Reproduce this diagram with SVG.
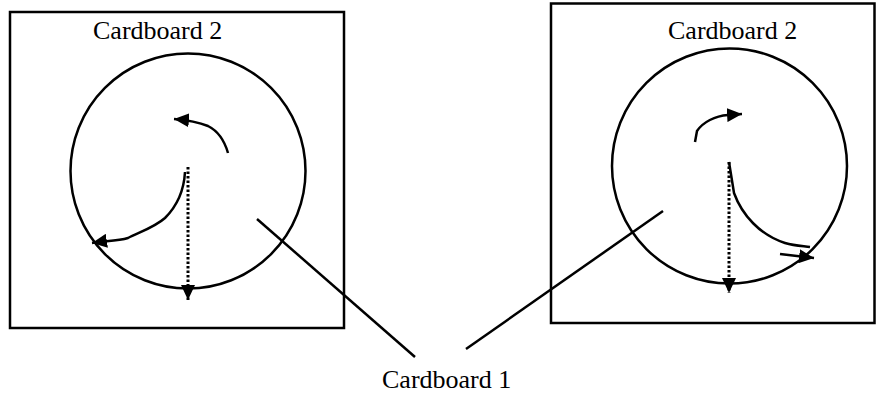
<svg xmlns="http://www.w3.org/2000/svg" width="876" height="396" viewBox="0 0 876 396">
<style>
.box{fill:none;stroke:#000;stroke-width:2.5}
.circ{fill:none;stroke:#000;stroke-width:2.5}
.ln{fill:none;stroke:#000;stroke-width:2.5}
.dot{fill:none;stroke:#000;stroke-width:3;stroke-dasharray:2.5 2}
.lbl{font-family:'Liberation Serif','Times New Roman',serif;font-size:26px;fill:#000}
</style>
<defs>
<marker id="ah" viewBox="0 0 15 14" refX="15" refY="7" markerWidth="15" markerHeight="14" markerUnits="userSpaceOnUse" orient="auto">
<path d="M0,0 L15,7 L0,14 z" fill="#000"/>
</marker>
</defs>
<g id="left-board">
<rect class="box" x="10" y="12" width="334" height="316"/>
<text class="lbl" x="93" y="39">Cardboard 2</text>
<circle class="circ" cx="188" cy="171" r="117.5"/>
<path class="ln" d="M228,153 C224,139 218,131 208,126 C198,122 186,120 174,119" marker-end="url(#ah)"/>
<path class="ln" d="M185,172 C184,190 178,205 165,218 C155,227 140,232 128,238 C118,241 105,241 92,243" marker-end="url(#ah)"/>
<path class="dot" d="M188,167 L188,300" marker-end="url(#ah)"/>
</g>
<g id="right-board">
<rect class="box" x="551" y="3.5" width="323.5" height="319.5"/>
<text class="lbl" x="668" y="39">Cardboard 2</text>
<circle class="circ" cx="729.5" cy="166" r="117.5"/>
<path class="ln" d="M695,142 L697,131 C703,122 715,116 728,115 L742,114" marker-end="url(#ah)"/>
<path class="ln" d="M729,162 L734,193 C742,215 760,235 785,243 C795,246 803,246 810,247"/>
<path class="ln" d="M780,254 L814,258" marker-end="url(#ah)"/>
<path class="dot" d="M729,162 L729,293" marker-end="url(#ah)"/>
</g>
<g id="cardboard1">
<text class="lbl" x="382" y="388">Cardboard 1</text>
</g>
<g id="connectors">
<line class="ln" x1="257" y1="219" x2="415" y2="357"/>
<line class="ln" x1="663" y1="211" x2="466" y2="349"/>
</g>
</svg>
